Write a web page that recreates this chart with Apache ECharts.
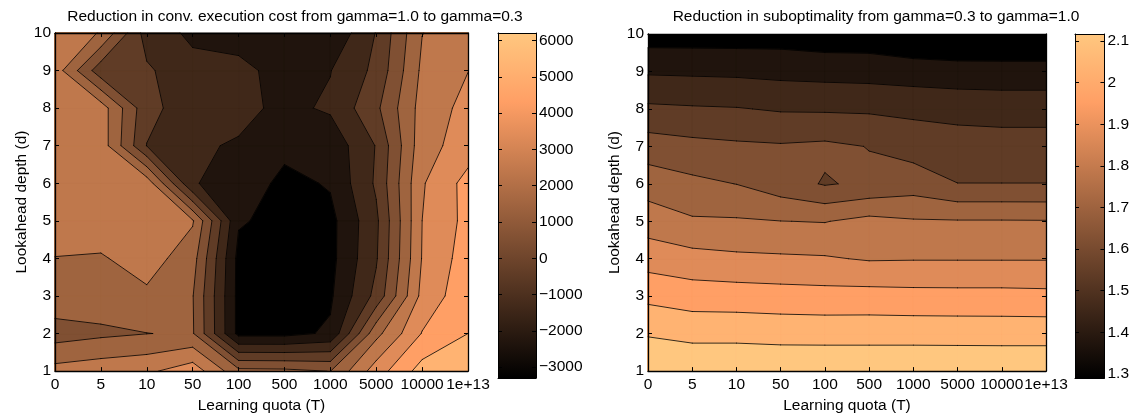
<!DOCTYPE html>
<html>
<head>
<meta charset="utf-8">
<title>contours</title>
<script src="https://cdn.jsdelivr.net/npm/echarts@6/dist/echarts.min.js"></script>
<style>
  html, body { margin: 0; padding: 0; background: #fff; }
  #chart { width: 1132px; height: 419px; }
</style>
</head>
<body>
<div id="chart"></div>
<script>
var quotaLabels = ['0', '5', '10', '50', '100', '500', '1000', '5000', '10000', '1e+13'];

// rows = lookahead depth 1..10 (bottom to top), columns follow quotaLabels
var costGrid = [
    [2360, 2600, 2808, 3575, 1300, 1250, 980, 3500, 5420, 5950],
    [546, 802, 985, 1100, -3300, -3300, -2850, 1700, 4050, 5000],
    [1681, 1594, 1800, 1050, -3300, -3300, -3150, -700, 3300, 4700],
    [1980, 1900, 2470, 1426, -3300, -3300, -3300, -1100, 3050, 4500],
    [2400, 2600, 2600, 2100, -2900, -3300, -3300, -1200, 3000, 4300],
    [2700, 2700, 2600, -1950, -2300, -3300, -2900, -850, 2900, 4354],
    [2700, 2576, -1024, -1850, -2100, -2700, -2672, -948, 2600, 3490],
    [2700, 2512, -688, -1555, -1700, -2250, -1853, -210, 2390, 3314],
    [2535, -615, -850, -1683, -1800, -2260, -2030, -750, 2200, 2984],
    [2500, 1950, -1450, -2200, -2300, -2500, -2860, -950, 1980, 2600]
];
var costLevels = [-3000, -2000, -1000, 0, 1000, 2000, 3000, 4000, 5000, 6000];
var costBarRange = [-3300, 6210];
var costBarStep = 1000;

var suboptGrid = [
    [2.117, 2.110, 2.110, 2.105, 2.105, 2.105, 2.105, 2.105, 2.105, 2.105],
    [2.035, 2.019, 2.019, 2.015, 2.014, 2.014, 2.014, 2.013, 2.012, 2.012],
    [1.948, 1.931, 1.928, 1.923, 1.919, 1.920, 1.916, 1.915, 1.915, 1.912],
    [1.860, 1.842, 1.831, 1.827, 1.823, 1.810, 1.812, 1.812, 1.812, 1.812],
    [1.780, 1.750, 1.749, 1.742, 1.738, 1.763, 1.748, 1.746, 1.746, 1.745],
    [1.708, 1.683, 1.665, 1.625, 1.585, 1.605, 1.629, 1.592, 1.592, 1.592],
    [1.627, 1.612, 1.603, 1.598, 1.605, 1.589, 1.561, 1.548, 1.546, 1.546],
    [1.530, 1.524, 1.520, 1.509, 1.507, 1.505, 1.498, 1.492, 1.487, 1.487],
    [1.431, 1.428, 1.425, 1.418, 1.413, 1.409, 1.401, 1.394, 1.393, 1.393],
    [1.327, 1.327, 1.327, 1.329, 1.318, 1.318, 1.296, 1.291, 1.291, 1.290]
];
var suboptLevels = [1.365, 1.440, 1.516, 1.591, 1.666, 1.741, 1.816, 1.892, 1.967, 2.042];
var suboptBarRange = [1.29, 2.117];
var suboptBarStep = 0.1;

var FONT = '"Liberation Sans", Arial, Helvetica, sans-serif';

// matlab copper colormap
function copper(t) {
    var r = Math.min(1, 1.25 * t), g = 0.7812 * t, b = 0.4975 * t;
    return 'rgb(' + Math.round(r * 255) + ',' + Math.round(g * 255) + ',' + Math.round(b * 255) + ')';
}

// corners in walking order: bottom-left, bottom-right, top-right, top-left
function cellCorners(grid, c, r) {
    return [
        { x: c, y: r, v: grid[r][c] },
        { x: c + 1, y: r, v: grid[r][c + 1] },
        { x: c + 1, y: r + 1, v: grid[r + 1][c + 1] },
        { x: c, y: r + 1, v: grid[r + 1][c] }
    ];
}

function edgePoint(a, b, level) {
    var t = (level - a.v) / (b.v - a.v);
    return [a.x + (b.x - a.x) * t, a.y + (b.y - a.y) * t];
}

// part of the cell where value >= level
function abovePolygons(k, level) {
    var up = k.map(function (p) { return p.v >= level; });
    var n = up.filter(Boolean).length;
    if (n === 0) return [];
    var centre = (k[0].v + k[1].v + k[2].v + k[3].v) / 4;
    if (n === 2 && up[0] === up[2] && centre < level) {
        var out = [];
        for (var i = 0; i < 4; i++) {
            if (!up[i]) continue;
            var prev = k[(i + 3) % 4], next = k[(i + 1) % 4];
            out.push([edgePoint(prev, k[i], level), [k[i].x, k[i].y], edgePoint(k[i], next, level)]);
        }
        return out;
    }
    var pts = [];
    for (var j = 0; j < 4; j++) {
        var a = k[j], b = k[(j + 1) % 4];
        if (up[j]) pts.push([a.x, a.y]);
        if (up[j] !== up[(j + 1) % 4]) pts.push(edgePoint(a, b, level));
    }
    return [pts];
}

function levelSegments(k, level) {
    var up = k.map(function (p) { return p.v >= level; });
    var cross = {};
    var count = 0;
    for (var i = 0; i < 4; i++) {
        if (up[i] !== up[(i + 1) % 4]) {
            cross[i] = edgePoint(k[i], k[(i + 1) % 4], level);
            count++;
        }
    }
    var keys = Object.keys(cross);
    if (count === 2) return [[cross[keys[0]], cross[keys[1]]]];
    if (count === 4) {
        var centreUp = (k[0].v + k[1].v + k[2].v + k[3].v) / 4 >= level;
        var segs = [];
        for (var j = 0; j < 4; j++) {
            if (up[j] !== centreUp) segs.push([cross[(j + 3) % 4], cross[j]]);
        }
        return segs;
    }
    return [];
}

function cellData(grid, levels) {
    var data = [];
    levels.forEach(function (lv, li) {
        for (var r = 0; r < grid.length - 1; r++) {
            for (var c = 0; c < grid[0].length - 1; c++) {
                data.push([c, r + 1, li]);
            }
        }
    });
    return data;
}

function fillSeries(grid, levels, xIdx, yIdx) {
    var nBands = levels.length + 1;
    return {
        type: 'custom',
        xAxisIndex: xIdx,
        yAxisIndex: yIdx,
        silent: true,
        encode: { x: 0, y: 1 },
        data: cellData(grid, levels),
        renderItem: function (params, api) {
            var c = api.value(0), r = api.value(1) - 1, li = api.value(2);
            var color = copper((li + 1) / (nBands - 1));
            var polys = abovePolygons(cellCorners(grid, c, r), levels[li]);
            return {
                type: 'group',
                children: polys.map(function (pts) {
                    return {
                        type: 'polygon',
                        z2: li + 1,
                        shape: { points: pts.map(function (p) { return api.coord([p[0], p[1] + 1]); }) },
                        style: { fill: color, stroke: color, lineWidth: 0.8 }
                    };
                })
            };
        }
    };
}

function lineSeries(grid, levels, xIdx, yIdx) {
    return {
        type: 'custom',
        xAxisIndex: xIdx,
        yAxisIndex: yIdx,
        silent: true,
        z: 3,
        encode: { x: 0, y: 1 },
        data: cellData(grid, levels),
        renderItem: function (params, api) {
            var c = api.value(0), r = api.value(1) - 1, li = api.value(2);
            var segs = levelSegments(cellCorners(grid, c, r), levels[li]);
            return {
                type: 'group',
                children: segs.map(function (s) {
                    var p = api.coord([s[0][0], s[0][1] + 1]), q = api.coord([s[1][0], s[1][1] + 1]);
                    return {
                        type: 'line',
                        shape: { x1: p[0], y1: p[1], x2: q[0], y2: q[1] },
                        style: { stroke: '#000', lineWidth: 0.8, lineCap: 'round' }
                    };
                })
            };
        }
    };
}

function barSeries(range, xIdx, yIdx) {
    return {
        type: 'custom',
        xAxisIndex: xIdx,
        yAxisIndex: yIdx,
        silent: true,
        data: [[0, range[0]]],
        renderItem: function (params, api) {
            var p0 = api.coord([0, range[0]]), p1 = api.coord([1, range[1]]);
            return {
                type: 'rect',
                shape: { x: p0[0], y: p1[1], width: p1[0] - p0[0], height: p0[1] - p1[1] },
                style: {
                    fill: new echarts.graphic.LinearGradient(0, 1, 0, 0, [
                        { offset: 0, color: copper(0) },
                        { offset: 0.8, color: copper(0.8) },
                        { offset: 1, color: copper(1) }
                    ])
                }
            };
        }
    };
}

var labelStyle = { color: '#000', fontSize: 15.5, fontFamily: FONT };
var nameStyle = { color: '#000', fontSize: 15.5, fontFamily: FONT };
var frameLine = { onZero: false, lineStyle: { color: '#000', width: 1.3 } };
var inTick = { inside: true, length: 4, lineStyle: { color: '#000', width: 1 } };

var grids = [], xAxes = [], yAxes = [], series = [], texts = [];

function addPlot(p) {
    var g = grids.length;
    grids.push({ left: p.plot.left, top: p.plot.top, width: p.plot.width, height: p.plot.height,
        show: true, backgroundColor: copper(0), borderWidth: 0 });
    var xi = xAxes.length, yi = yAxes.length;
    xAxes.push({
        gridIndex: g, type: 'value', min: 0, max: quotaLabels.length - 1, interval: 1, position: 'bottom', z: 10,
        axisLine: frameLine, axisTick: inTick, splitLine: { show: false },
        axisLabel: Object.assign({ margin: 6, formatter: function (v) { return quotaLabels[v]; } }, labelStyle),
        name: 'Learning quota (T)', nameLocation: 'middle', nameGap: 26, nameTextStyle: nameStyle
    });
    xAxes.push({
        gridIndex: g, type: 'value', min: 0, max: quotaLabels.length - 1, interval: 1, position: 'top', z: 10,
        axisLine: frameLine, axisTick: inTick, splitLine: { show: false }, axisLabel: { show: false }
    });
    yAxes.push({
        gridIndex: g, type: 'value', min: 1, max: p.grid.length, interval: 1, position: 'left', z: 10,
        axisLine: frameLine, axisTick: inTick, splitLine: { show: false },
        axisLabel: Object.assign({ margin: 4 }, labelStyle),
        name: 'Lookahead depth (d)', nameLocation: 'middle', nameGap: 25, nameTextStyle: nameStyle
    });
    yAxes.push({
        gridIndex: g, type: 'value', min: 1, max: p.grid.length, interval: 1, position: 'right', z: 10,
        axisLine: frameLine, axisTick: inTick, splitLine: { show: false }, axisLabel: { show: false }
    });
    series.push(fillSeries(p.grid, p.levels, xi, yi));
    series.push(lineSeries(p.grid, p.levels, xi, yi));

    // colorbar
    var gb = grids.length;
    grids.push({ left: p.bar.left, top: p.bar.top, width: p.bar.width, height: p.bar.height });
    var bxi = xAxes.length, byi = yAxes.length;
    var thin = { onZero: false, lineStyle: { color: '#000', width: 1 } };
    xAxes.push({ gridIndex: gb, type: 'value', min: 0, max: 1, position: 'bottom', z: 10, axisLine: thin,
        axisTick: { show: false }, axisLabel: { show: false }, splitLine: { show: false } });
    xAxes.push({ gridIndex: gb, type: 'value', min: 0, max: 1, position: 'top', z: 10, axisLine: thin,
        axisTick: { show: false }, axisLabel: { show: false }, splitLine: { show: false } });
    yAxes.push({
        gridIndex: gb, type: 'value', min: p.barRange[0], max: p.barRange[1],
        minInterval: p.barStep, maxInterval: p.barStep, position: 'right', z: 10,
        axisLine: thin, axisTick: inTick, splitLine: { show: false },
        axisLabel: Object.assign({ margin: 3, showMinLabel: false, showMaxLabel: false,
            formatter: function (v) { return String(v).replace('-', '\u2212'); } }, labelStyle)
    });
    yAxes.push({
        gridIndex: gb, type: 'value', min: p.barRange[0], max: p.barRange[1],
        minInterval: p.barStep, maxInterval: p.barStep, position: 'left', z: 10,
        axisLine: thin, axisTick: inTick, splitLine: { show: false }, axisLabel: { show: false }
    });
    series.push(barSeries(p.barRange, bxi, byi));

    texts.push({
        type: 'text', x: p.titleX, y: 17, z: 20,
        style: { text: p.title, align: 'center', verticalAlign: 'middle', textAlign: 'center',
            textVerticalAlign: 'middle', fill: '#000', font: '15.5px ' + FONT }
    });
}

addPlot({
    title: 'Reduction in conv. execution cost from gamma=1.0 to gamma=0.3',
    grid: costGrid, levels: costLevels, barRange: costBarRange, barStep: costBarStep,
    plot: { left: 55, top: 33, width: 413, height: 343.5 },
    bar: { left: 498, top: 33, width: 38, height: 345 },
    titleX: 295
});
addPlot({
    title: 'Reduction in suboptimality from gamma=0.3 to gamma=1.0',
    grid: suboptGrid, levels: suboptLevels, barRange: suboptBarRange, barStep: suboptBarStep,
    plot: { left: 648, top: 34, width: 398, height: 341 },
    bar: { left: 1075, top: 34, width: 31, height: 344 },
    titleX: 876
});

var chart = echarts.init(document.getElementById('chart'));
chart.setOption({
    animation: false,
    backgroundColor: '#fff',
    grid: grids,
    xAxis: xAxes,
    yAxis: yAxes,
    series: series,
    graphic: texts
});
</script>
</body>
</html>
